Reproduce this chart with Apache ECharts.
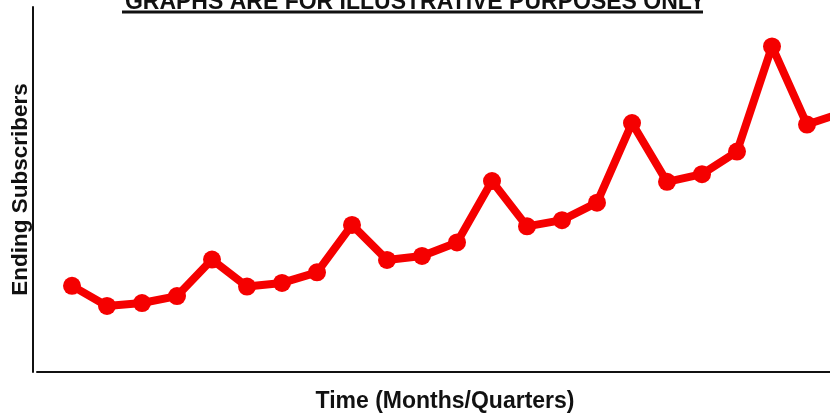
<!DOCTYPE html>
<html>
<head>
<meta charset="utf-8">
<script src="https://cdn.jsdelivr.net/npm/echarts@6/dist/echarts.min.js"></script>
<style>
  html, body { margin: 0; padding: 0; background: #ffffff; }
  #chart { width: 830px; height: 419px; }
</style>
</head>
<body>
<div id="chart"></div>
<script>
// Reporting periods (months/quarters) and ending subscriber counts (arbitrary units)
const periods = [1, 2, 3, 4, 5, 6, 7, 8, 9, 10, 11, 12, 13, 14, 15, 16, 17, 18, 19, 20, 21, 22, 23];
const endingSubscribers = [23.6, 18.1, 18.9, 20.8, 30.8, 23.4, 24.4, 27.3, 40.3, 30.7, 31.8, 35.5,
                           52.3, 39.9, 41.6, 46.4, 68.2, 52.1, 54.2, 60.4, 89.2, 67.8, 71.0];

const titleText = 'GRAPHS ARE FOR ILLUSTRATIVE PURPOSES ONLY';
const xAxisTitle = 'Time (Months/Quarters)';
const yAxisTitle = 'Ending Subscribers';

const FONT = '"Liberation Sans", Arial, sans-serif';
const INK = '#111111';

const chart = echarts.init(document.getElementById('chart'), null, { renderer: 'canvas' });

chart.setOption({
  backgroundColor: '#ffffff',
  animation: false,
  title: {
    text: titleText,
    left: 'center',
    top: -8,
    padding: 0,
    textStyle: { fontFamily: FONT, fontSize: 23, fontWeight: 'bold', color: INK, lineHeight: 22 }
  },
  graphic: [
    {
      // underline beneath the title
      type: 'line',
      shape: { x1: 122, y1: 12, x2: 703, y2: 12 },
      style: { stroke: INK, lineWidth: 3 }
    },
    {
      // horizontal axis title
      type: 'text',
      x: 445,
      y: 402,
      style: {
        text: xAxisTitle,
        font: 'bold 23px ' + FONT,
        fill: INK,
        align: 'center',
        verticalAlign: 'middle'
      }
    }
  ],
  // the plot area runs past the right edge so the last period is cut off
  grid: { left: 37, width: 805, top: 7, bottom: 47, containLabel: false, outerBoundsMode: 'none' },
  xAxis: {
    type: 'value',
    min: 0,
    max: periods.length,
    axisLine: { show: true, onZero: false, lineStyle: { color: INK, width: 2 } },
    axisTick: { show: false },
    axisLabel: { show: false },
    splitLine: { show: false }
  },
  yAxis: {
    type: 'value',
    min: 0,
    max: 100,
    offset: 4,
    name: yAxisTitle,
    nameLocation: 'middle',
    nameGap: 1,
    nameTextStyle: { fontFamily: FONT, fontSize: 22.5, fontWeight: 'bold', color: INK },
    axisLine: { show: true, onZero: false, lineStyle: { color: INK, width: 2 } },
    axisTick: { show: false },
    axisLabel: { show: false },
    splitLine: { show: false }
  },
  series: [{
    type: 'line',
    data: periods.map((p, i) => [p, endingSubscribers[i]]),
    symbol: 'circle',
    symbolSize: 18,
    showSymbol: true,
    lineStyle: { color: '#f50000', width: 8, join: 'round' },
    itemStyle: { color: '#f50000', borderWidth: 0 },
    emphasis: { disabled: true },
    z: 3
  }]
});
</script>
</body>
</html>
